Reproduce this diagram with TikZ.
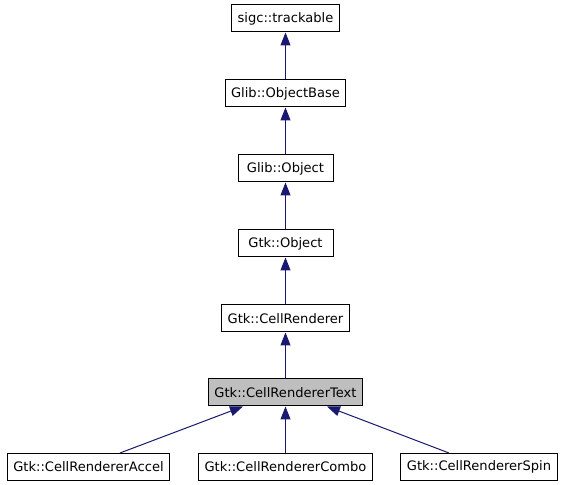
\documentclass[tikz,border=0pt]{standalone}
\usepackage{fontspec}
\setmainfont{DejaVu Sans}
\definecolor{EdgeColor}{RGB}{25,25,112}
\colorlet{CurrentClass}{black!25}
\usetikzlibrary{arrows.meta}

\tikzset{
  classbox/.style={draw=black, line width=0.75pt, fill=white, minimum height=20.25pt,
    inner xsep=4.5pt, inner ysep=0pt, font=\fontsize{9.8pt}{11pt}\selectfont},
  currentbox/.style={classbox, fill=CurrentClass},
  inherit/.style={draw=EdgeColor, line width=0.75pt,
    -{Triangle[length=9.75pt, width=7.5pt, fill=EdgeColor]}}
}

\begin{document}
\begin{tikzpicture}[x=0.75pt, y=0.75pt]
\useasboundingbox (0, 0) rectangle (565, 485);

% Cadena de clases base, de arriba hacia abajo.
\node[classbox] (trackable) at (285.5, 466.5) {sigc::trackable};
\node[classbox] (objectbase) at (285.5, 391.5) {Glib::ObjectBase};
\node[classbox, minimum width=71.25pt] (glibobject) at (285.5, 316.5) {Glib::Object};
\node[classbox, minimum width=71.25pt] (gtkobject) at (285.5, 241.5) {Gtk::Object};
\node[classbox] (renderer) at (285.5, 166.5) {Gtk::CellRenderer};
\node[currentbox] (text) at (285.5, 92.5) {Gtk::CellRendererText};

% Clases derivadas.
\node[classbox] (accel) at (88.5, 18) {Gtk::CellRendererAccel};
\node[classbox] (combo) at (285.5, 18) {Gtk::CellRendererCombo};
\node[classbox] (spin) at (479, 18) {Gtk::CellRendererSpin};

% Flechas de herencia, del hijo al padre.
\draw[inherit] (objectbase) -- (trackable);
\draw[inherit] (glibobject) -- (objectbase);
\draw[inherit] (gtkobject) -- (glibobject);
\draw[inherit] (renderer) -- (gtkobject);
\draw[inherit] (text) -- (renderer);

\draw[inherit] ([xshift=23.6pt]accel.north) -- ([xshift=-31.9pt]text.south);
\draw[inherit] (combo) -- (text);
\draw[inherit] ([xshift=-22.5pt]spin.north) -- ([xshift=31.1pt]text.south);

\end{tikzpicture}
\end{document}
